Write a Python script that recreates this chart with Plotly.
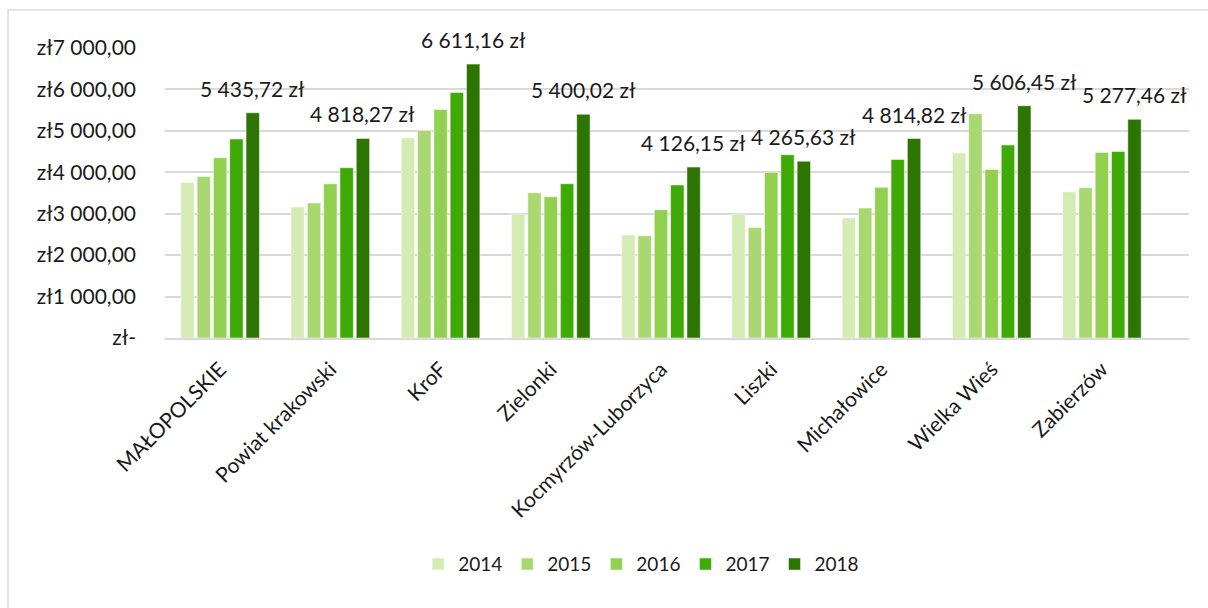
import plotly.graph_objects as go

# Gminy / jednostki porównywane na wykresie
categories = ["MAŁOPOLSKIE", "Powiat krakowski", "KroF", "Zielonki",
              "Kocmyrzów-Luborzyca", "Liszki", "Michałowice", "Wielka Wieś", "Zabierzów"]

years = ["2014", "2015", "2016", "2017", "2018"]

v2014 = [3756, 3162, 4827, 2993, 2486, 2993, 2896, 4465, 3531]
v2015 = [3901, 3258, 5011, 3507, 2469, 2670, 3138, 5414, 3628]
v2016 = [4352, 3724, 5518, 3410, 3097, 3998, 3636, 4070, 4480]
v2017 = [4803, 4110, 5928, 3724, 3693, 4424, 4311, 4658, 4504]
v2018 = [5435.72, 4818.27, 6611.16, 5400.02, 4126.15, 4265.63, 4814.82, 5606.45, 5277.46]

series = [v2014, v2015, v2016, v2017, v2018]
colors = ["#D4ECB4", "#A9D873", "#92D050", "#3DAA05", "#2B7500"]

y_tickvals = [0, 1000, 2000, 3000, 4000, 5000, 6000, 7000]
y_ticktext = ["zł-", "zł1 000,00", "zł2 000,00", "zł3 000,00", "zł4 000,00",
              "zł5 000,00", "zł6 000,00", "zł7 000,00"]

FONT = "Lato"
TXT = "#1a1a1a"


def pln(v):
    s = f"{v:,.2f}"
    whole, frac = s.split(".")
    return whole.replace(",", " ") + "," + frac + " zł"


fig = go.Figure()
for name, vals, col in zip(years, series, colors):
    fig.add_trace(go.Bar(
        name=name, x=categories, y=vals,
        marker=dict(color=col, line=dict(color="white", width=0.5)),
    ))

# etykiety wartości nad słupkami 2018
bargap = 0.26
n = len(years)
slot = (1 - bargap) / n
off = -(1 - bargap) / 2 + slot * (n - 0.5)
for i, v in enumerate(v2018):
    fig.add_annotation(
        x=i + off, y=v, xref="x", yref="y", text=pln(v),
        showarrow=False, yanchor="bottom", yshift=10,
        font=dict(family=FONT, size=21, color=TXT),
    )

# ramka obszaru wykresu
fig.add_shape(type="rect", xref="paper", yref="paper",
              x0=-0.1533, x1=1.2, y0=-1.2, y1=1.131,
              line=dict(color="#D9D9D9", width=1.5), fillcolor="rgba(0,0,0,0)",
              layer="below")

fig.update_layout(
    width=1208, height=608,
    margin=dict(l=165, r=19, t=48, b=270),
    paper_bgcolor="white", plot_bgcolor="white",
    barmode="group", bargap=bargap, bargroupgap=0.18,
    font=dict(family=FONT, size=20, color=TXT),
    showlegend=True,
    legend=dict(orientation="h", x=0.465, xanchor="center", y=-0.78, yanchor="middle",
                font=dict(family=FONT, size=19, color=TXT),
                itemwidth=30, traceorder="normal"),
    xaxis=dict(tickangle=-45, ticks="", showgrid=False, showline=True,
               linecolor="#D9D9D9", linewidth=1.5, ticklabelstandoff=9,
               tickfont=dict(family=FONT, size=21, color=TXT)),
    yaxis=dict(range=[0, 7000], tickvals=y_tickvals, ticktext=y_ticktext,
               showgrid=True, gridcolor="#D9D9D9", gridwidth=1.5,
               zeroline=False, ticks="", ticklabelstandoff=28,
               tickfont=dict(family=FONT, size=21, color=TXT)),
)

fig.write_html("out.html")
